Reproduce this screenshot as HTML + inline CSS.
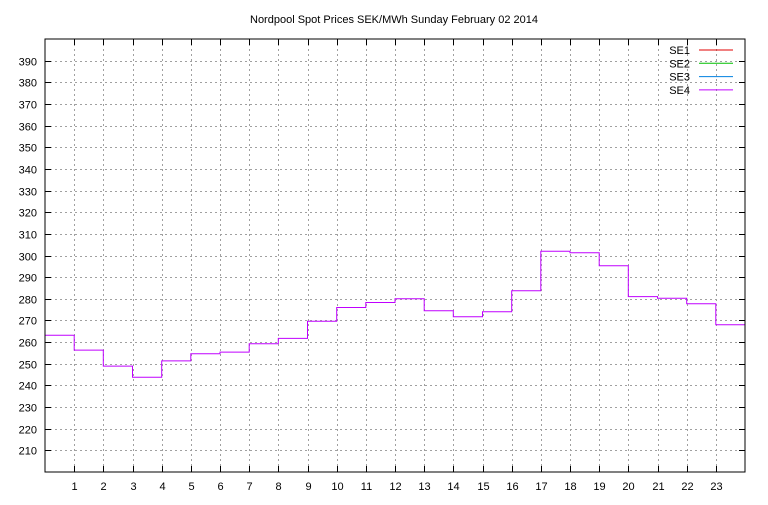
<!DOCTYPE html>
<html><head><meta charset="utf-8"><style>
body{margin:0;background:#fff;}
svg text{font-family:"Liberation Sans",sans-serif;font-size:11px;fill:#000;}
</style></head><body>
<svg width="768" height="500" xmlns="http://www.w3.org/2000/svg">
<rect width="768" height="500" fill="#fff"/>
<text x="394" y="23" text-anchor="middle">Nordpool Spot Prices SEK/MWh Sunday February 02 2014</text>
<g id="grid"></g>
<g id="axes"></g>
<g id="series"></g>
<rect x="45" y="39" width="700" height="433" fill="none" stroke="#000" stroke-width="1"/>
<g id="legend"></g>
</svg>
<script>
const hours=[0,1,2,3,4,5,6,7,8,9,10,11,12,13,14,15,16,17,18,19,20,21,22,23];
const se4=[263.2,256.3,248.9,243.8,251.3,254.6,255.4,259.2,261.7,269.6,276,278.3,280,274.5,271.7,274,283.7,302,301.3,295.3,281,280.3,277.7,268];
const xTicks=[1,2,3,4,5,6,7,8,9,10,11,12,13,14,15,16,17,18,19,20,21,22,23];
const yTicks=[210,220,230,240,250,260,270,280,290,300,310,320,330,340,350,360,370,380,390];
const legendNames=["SE1","SE2","SE3","SE4"];
const legendColors=["#e00000","#00c000","#0080e0","#c000ff"];
const L=45,R=745,T=39,B=472;
const x=v=>L+(v-0)/24*(R-L);
const y=v=>B-(v-200)/200*(B-T);
const NS="http://www.w3.org/2000/svg";
function mk(t,a,p){const e=document.createElementNS(NS,t);for(const k in a)e.setAttribute(k,a[k]);p.appendChild(e);return e;}
const g=document.getElementById('grid'),ax=document.getElementById('axes');
yTicks.forEach(v=>{
 const yy=Math.round(y(v))+0.5;
 const l=mk('line',{x1:L,x2:R,y1:yy,y2:yy,stroke:'#a0a0a0','stroke-dasharray':'2,3'},g);
 
 
 mk('line',{x1:L,x2:L+6,y1:yy,y2:yy,stroke:'#000'},ax);
 mk('line',{x1:R-6,x2:R,y1:yy,y2:yy,stroke:'#000'},ax);
 const t=mk('text',{x:L-8,y:yy+4,'text-anchor':'end'},ax);t.textContent=v;
 
 
});
xTicks.forEach(v=>{
 const xx=Math.round(x(v))+0.5;
 const l=mk('line',{x1:xx,x2:xx,y1:T,y2:B,stroke:'#a0a0a0','stroke-dasharray':'2,3'},g);
 
 
 mk('line',{x1:xx,x2:xx,y1:B-6,y2:B,stroke:'#000'},ax);
 mk('line',{x1:xx,x2:xx,y1:T,y2:T+6,stroke:'#000'},ax);
 const t=mk('text',{x:xx,y:B+18,'text-anchor':'middle'},ax);t.textContent=v;
 
 
});
let d='';
hours.forEach((h,i)=>{const yy=y(se4[i]).toFixed(1);d+=(i?'L':'M')+x(h).toFixed(1)+' '+yy+' L'+x(h+1).toFixed(1)+' '+yy+' ';});
const p=mk('path',{d:d,fill:'none',stroke:'#c000ff','stroke-width':1},document.getElementById('series'));


const lg=document.getElementById('legend');
legendNames.forEach((n,i)=>{
 const yy=50+i*13.3;
 const t=mk('text',{x:690,y:yy+4,'text-anchor':'end'},lg);t.textContent=n;
 
 
 mk('line',{x1:699,x2:733,y1:yy,y2:yy,stroke:legendColors[i]},lg);
});
</script>
</body></html>
